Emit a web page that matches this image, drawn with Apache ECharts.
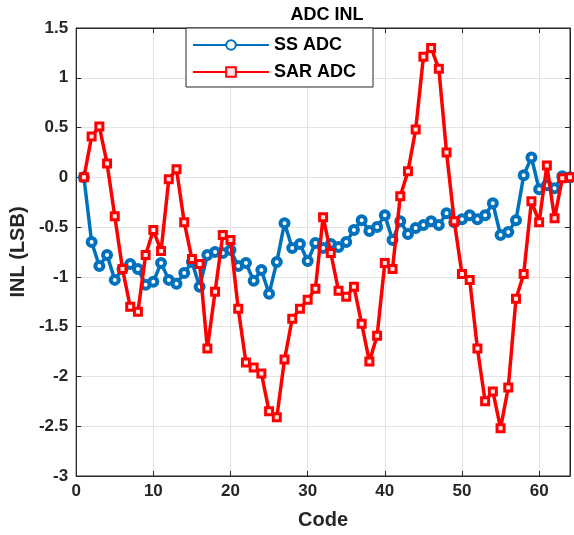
<!DOCTYPE html>
<html>
<head>
    <meta charset="utf-8" />
    <title>ADC INL</title>
    <script src="https://cdn.jsdelivr.net/npm/echarts@6/dist/echarts.min.js"></script>
    <style type="text/css">
        html, body { margin: 0; padding: 0; background: #fff; }
        #main { width: 574px; height: 535px; }
    </style>
</head>
<body>
<div id="main"></div>
<script type="text/javascript">
    // 码值 1..64
    var codes = [];
    for (var i = 1; i <= 64; i++) codes.push(i);

    var ssAdc = [
        0, -0.65, -0.89, -0.78, -1.03, -0.92, -0.87, -0.92, -1.08, -1.05,
        -0.86, -1.03, -1.07, -0.96, -0.85, -1.10, -0.78, -0.75, -0.76, -0.73,
        -0.89, -0.86, -1.04, -0.93, -1.17, -0.85, -0.46, -0.71, -0.67, -0.84,
        -0.66, -0.71, -0.67, -0.70, -0.65, -0.53, -0.43, -0.54, -0.50, -0.38,
        -0.63, -0.44, -0.57, -0.51, -0.48, -0.44, -0.48, -0.36, -0.45, -0.42,
        -0.38, -0.42, -0.38, -0.26, -0.58, -0.55, -0.43, 0.02, 0.20, -0.12,
        -0.08, -0.11, 0.01, 0
    ];

    var sarAdc = [
        0, 0.41, 0.51, 0.14, -0.39, -0.92, -1.30, -1.35, -0.78, -0.53,
        -0.74, -0.02, 0.08, -0.45, -0.82, -0.87, -1.72, -1.15, -0.58, -0.63,
        -1.32, -1.86, -1.91, -1.97, -2.35, -2.41, -1.83, -1.42, -1.32, -1.23,
        -1.12, -0.40, -0.76, -1.14, -1.20, -1.10, -1.47, -1.85, -1.59, -0.86,
        -0.92, -0.19, 0.06, 0.48, 1.21, 1.30, 1.09, 0.25, -0.44, -0.97,
        -1.03, -1.72, -2.25, -2.15, -2.52, -2.11, -1.22, -0.97, -0.24, -0.45,
        0.12, -0.41, -0.01, 0
    ];

    function pairs(vals) {
        return codes.map(function (c, k) { return [c, vals[k]]; });
    }

    var font = 'Liberation Sans, Arial, sans-serif';
    var txt = '#262626';

    var myChart = echarts.init(document.getElementById('main'));

    var option = {
        animation: false,
        backgroundColor: '#fff',
        title: {
            text: 'ADC INL',
            left: 322,
            top: 1,
            textAlign: 'center',
            textStyle: { fontFamily: font, fontSize: 18, fontWeight: 'bold', color: '#000' }
        },
        legend: {
            orient: 'vertical',
            left: 186,
            top: 28,
            padding: [8, 17, 6, 6],
            itemGap: 9,
            itemWidth: 76,
            itemHeight: 12,
            backgroundColor: '#fff',
            borderColor: '#262626',
            borderWidth: 1,
            borderRadius: 0,
            textStyle: { fontFamily: font, fontSize: 18, fontWeight: 'bold', color: '#000' },
            data: ['SS ADC', 'SAR ADC']
        },
        grid: {
            left: 75,
            right: 4,
            top: 28,
            bottom: 57,
            show: true,
            borderColor: '#262626',
            borderWidth: 1
        },
        xAxis: [{
            type: 'value',
            min: 0,
            max: 64,
            interval: 10,
            name: 'Code',
            nameLocation: 'middle',
            nameGap: 34,
            nameTextStyle: { fontFamily: font, fontSize: 20, fontWeight: 'bold', color: txt },
            axisLine: { show: true, onZero: false, lineStyle: { color: '#262626' } },
            axisTick: { show: true, inside: true, length: 5, lineStyle: { color: '#262626' } },
            axisLabel: {
                fontFamily: font, fontSize: 17, fontWeight: 'bold', color: txt, margin: 7,
                showMaxLabel: false
            },
            splitLine: { show: true, lineStyle: { color: '#e3e3e3' } }
        }, {
            type: 'value',
            position: 'top',
            min: 0,
            max: 64,
            interval: 10,
            axisLine: { show: true, onZero: false, lineStyle: { color: '#262626' } },
            axisTick: { show: true, inside: true, length: 5, lineStyle: { color: '#262626' } },
            axisLabel: { show: false },
            splitLine: { show: false }
        }],
        yAxis: [{
            type: 'value',
            min: -3,
            max: 1.5,
            interval: 0.5,
            name: 'INL (LSB)',
            nameLocation: 'middle',
            nameGap: 43,
            nameTextStyle: { fontFamily: font, fontSize: 20, fontWeight: 'bold', color: txt },
            axisLine: { show: true, onZero: false, lineStyle: { color: '#262626' } },
            axisTick: { show: true, inside: true, length: 5, lineStyle: { color: '#262626' } },
            axisLabel: { fontFamily: font, fontSize: 17, fontWeight: 'bold', color: txt, margin: 8 },
            splitLine: { show: true, lineStyle: { color: '#e3e3e3' } }
        }, {
            type: 'value',
            position: 'right',
            min: -3,
            max: 1.5,
            interval: 0.5,
            axisLine: { show: true, onZero: false, lineStyle: { color: '#262626' } },
            axisTick: { show: true, inside: true, length: 5, lineStyle: { color: '#262626' } },
            axisLabel: { show: false },
            splitLine: { show: false }
        }],
        series: [{
            name: 'SS ADC',
            type: 'line',
            data: pairs(ssAdc),
            symbol: 'circle',
            symbolSize: 8,
            lineStyle: { color: '#0072BD', width: 3.5 },
            itemStyle: { color: '#ffffff', borderColor: '#0072BD', borderWidth: 4 },
            z: 2
        }, {
            name: 'SAR ADC',
            type: 'line',
            data: pairs(sarAdc),
            symbol: 'rect',
            symbolSize: 7,
            lineStyle: { color: '#FF0000', width: 3.5 },
            itemStyle: { color: '#ffe6e6', borderColor: '#FF0000', borderWidth: 3 },
            z: 3
        }]
    };

    myChart.setOption(option);
</script>
</body>
</html>
